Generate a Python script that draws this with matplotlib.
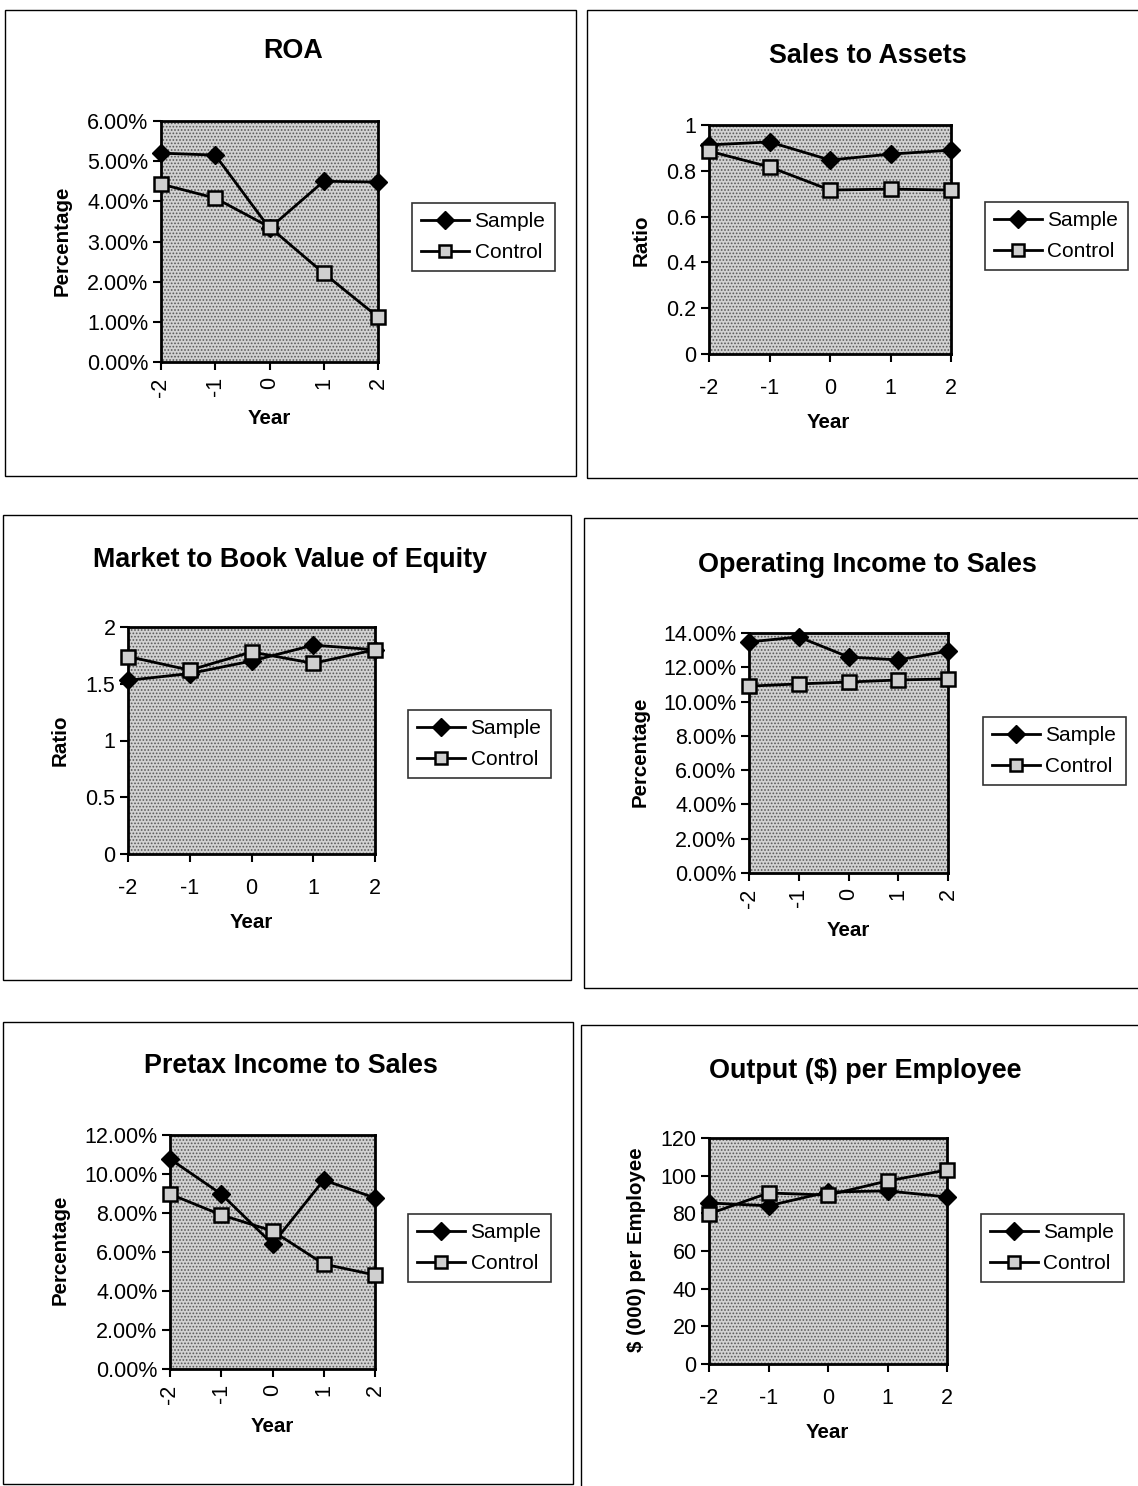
import matplotlib
matplotlib.use("Agg")
import matplotlib.pyplot as plt
from matplotlib.patches import Rectangle
from matplotlib.ticker import FuncFormatter
from matplotlib.lines import Line2D

plt.rcParams['font.family'] = ['Liberation Sans', 'DejaVu Sans']
plt.rcParams['hatch.color'] = '#5a5a5a'
plt.rcParams['hatch.linewidth'] = 0.8

W, H = 1138, 1486

years = [-2, -1, 0, 1, 2]
series_names = ["Sample", "Control"]

roa_sample = [5.20, 5.15, 3.33, 4.50, 4.48]
roa_control = [4.43, 4.08, 3.36, 2.21, 1.12]

sta_sample = [0.913, 0.926, 0.847, 0.873, 0.890]
sta_control = [0.886, 0.817, 0.716, 0.720, 0.716]

mb_sample = [1.53, 1.59, 1.70, 1.84, 1.80]
mb_control = [1.74, 1.62, 1.78, 1.68, 1.80]

ois_sample = [13.48, 13.77, 12.60, 12.43, 12.95]
ois_control = [10.90, 11.03, 11.14, 11.26, 11.32]

pts_sample = [10.77, 8.97, 6.41, 9.69, 8.77]
pts_control = [8.97, 7.90, 7.08, 5.38, 4.82]

ope_sample = [85.5, 84.0, 91.3, 91.9, 88.7]
ope_control = [79.7, 90.8, 89.7, 97.2, 103.0]

fig = plt.figure(figsize=(W / 100, H / 100), dpi=100)
fig.patch.set_facecolor('white')


def fx(x):
    return x / W


def fy(y):
    return 1 - y / H


def box(x0, y0, x1, y1):
    return [fx(x0), fy(y1), (x1 - x0) / W, (y1 - y0) / H]


pct = FuncFormatter(lambda v, p: f"{v:.2f}%")
plain = FuncFormatter(lambda v, p: f"{v:g}")

panels = [
    dict(title="ROA", frame=(5, 10, 576, 476), area=(161, 121, 378, 362),
         legend=(412, 203), tpos=(293, 51), ylab="Percentage", ylpos=(62, 241),
         xlpos=(269, 418), data=(roa_sample, roa_control), ylim=(0, 6), step=1,
         fmt=pct, rot=True),
    dict(title="Sales to Assets", frame=(587, 10, 1140, 478), area=(709, 125, 951, 354),
         legend=(985, 202), tpos=(868, 56), ylab="Ratio", ylpos=(641, 240),
         xlpos=(828, 422), data=(sta_sample, sta_control), ylim=(0, 1), step=0.2,
         fmt=plain, rot=False),
    dict(title="Market to Book Value of Equity", frame=(3, 515, 571, 980),
         area=(128, 627, 375, 854), legend=(408, 710), tpos=(290, 560), ylab="Ratio",
         ylpos=(60, 740), xlpos=(251, 922), data=(mb_sample, mb_control), ylim=(0, 2),
         step=0.5, fmt=plain, rot=False),
    dict(title="Operating Income to Sales", frame=(584, 518, 1140, 988),
         area=(749, 633, 948, 873), legend=(983, 717), tpos=(867, 565),
         ylab="Percentage", ylpos=(640, 752), xlpos=(848, 931),
         data=(ois_sample, ois_control), ylim=(0, 14), step=2, fmt=pct, rot=True),
    dict(title="Pretax Income to Sales", frame=(3, 1022, 573, 1484),
         area=(170, 1135, 375, 1369), legend=(408, 1214), tpos=(291, 1066),
         ylab="Percentage", ylpos=(60, 1250), xlpos=(272, 1426),
         data=(pts_sample, pts_control), ylim=(0, 12), step=2, fmt=pct, rot=True),
    dict(title="Output ($) per Employee", frame=(581, 1025, 1140, 1490),
         area=(709, 1138, 947, 1364), legend=(981, 1214), tpos=(865, 1071),
         ylab="$ (000) per Employee", ylpos=(636, 1250), xlpos=(827, 1432),
         data=(ope_sample, ope_control), ylim=(0, 120), step=20, fmt=plain, rot=False),
]

for p in panels:
    x0, y0, x1, y1 = p["frame"]
    fig.add_artist(Rectangle((fx(x0), fy(y1)), (x1 - x0) / W, (y1 - y0) / H,
                             transform=fig.transFigure, fill=False,
                             edgecolor='black', linewidth=1.0))

    ax = fig.add_axes(box(*p["area"]))
    ax.set_facecolor('#d2d2d2')
    bg = Rectangle((0, 0), 1, 1, transform=ax.transAxes, facecolor='#d2d2d2',
                   edgecolor='#5a5a5a', linewidth=0, hatch='.....', zorder=0)
    ax.add_patch(bg)

    s, c = p["data"]
    ax.plot(years, s, color='black', linewidth=2, marker='D', markersize=9,
            markerfacecolor='black', markeredgecolor='black', zorder=3,
            clip_on=False, label=series_names[0])
    ax.plot(years, c, color='black', linewidth=2, marker='s', markersize=10,
            markerfacecolor='#cfcfcf', markeredgecolor='black', markeredgewidth=1.8,
            zorder=4, clip_on=False, label=series_names[1])

    lo, hi = p["ylim"]
    ax.set_xlim(-2, 2)
    ax.set_ylim(lo, hi)
    n = int(round((hi - lo) / p["step"]))
    ax.set_yticks([lo + i * p["step"] for i in range(n + 1)])
    ax.yaxis.set_major_formatter(p["fmt"])
    ax.set_xticks(years)
    ax.set_xticklabels([f"{y:d}" for y in years])
    for sp in ax.spines.values():
        sp.set_linewidth(2)
    ax.tick_params(direction='out', length=6, width=1.5, labelsize=15.5, pad=3)
    if p["rot"]:
        for t in ax.get_xticklabels():
            t.set_rotation(90)
        ax.tick_params(axis='x', pad=5)
    else:
        ax.tick_params(axis='x', pad=11)

    fig.text(fx(p["tpos"][0]), fy(p["tpos"][1]), p["title"], ha='center', va='center',
             fontsize=19.4, fontweight='bold')
    fig.text(fx(p["ylpos"][0]), fy(p["ylpos"][1]), p["ylab"], ha='center', va='center',
             rotation=90, fontsize=14.8, fontweight='bold')
    fig.text(fx(p["xlpos"][0]), fy(p["xlpos"][1]), "Year", ha='center', va='center',
             fontsize=14.8, fontweight='bold')

    lx, ly = p["legend"]
    handles = [
        Line2D([], [], color='black', linewidth=2, marker='D', markersize=9,
               markerfacecolor='black'),
        Line2D([], [], color='black', linewidth=2, marker='s', markersize=9,
               markerfacecolor='#cfcfcf', markeredgewidth=1.8),
    ]
    leg = fig.legend(handles, series_names, loc='upper left',
                     bbox_to_anchor=(fx(lx), fy(ly)), bbox_transform=fig.transFigure,
                     fontsize=15, frameon=True, fancybox=False, handlelength=2.3,
                     handletextpad=0.25, borderpad=0.45, labelspacing=0.55,
                     borderaxespad=0)
    leg.get_frame().set_edgecolor('black')
    leg.get_frame().set_linewidth(1.2)

fig.savefig("out.png", dpi=100, facecolor='white')
